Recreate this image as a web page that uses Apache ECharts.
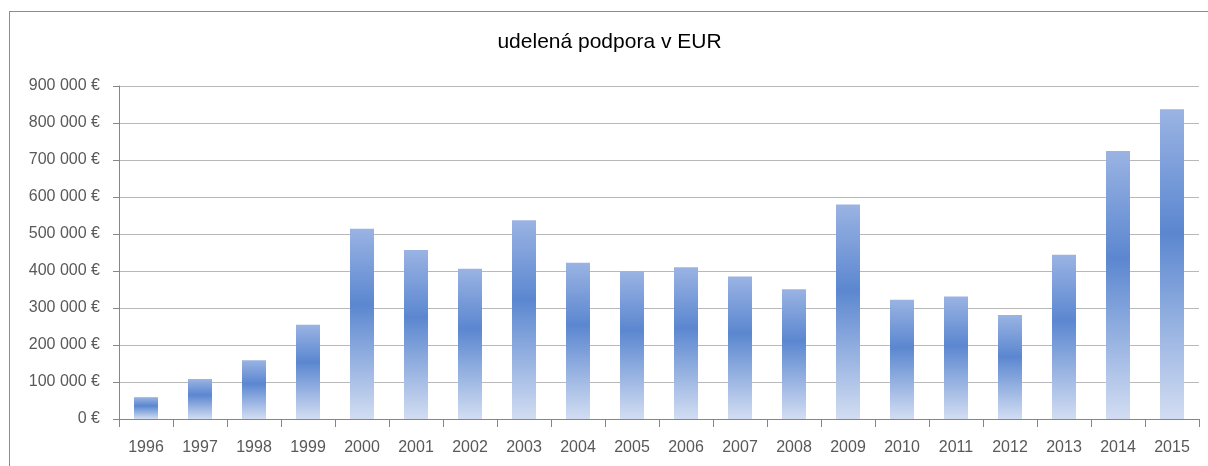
<!DOCTYPE html>
<html>
<head>
<meta charset="utf-8">
<script src="https://cdn.jsdelivr.net/npm/echarts@6/dist/echarts.min.js"></script>
<style>
    html, body { margin: 0; padding: 0; background: #ffffff; }
    #wrap { position: relative; width: 1208px; height: 466px; overflow: hidden; }
    #main {
        position: absolute; left: 9px; top: 11px;
        width: 1199px; height: 455px;
        border-top: 1px solid #8c8c8c; border-left: 1px solid #8c8c8c;
    }
</style>
</head>
<body>
<div id="wrap"><div id="main"></div></div>
<script>
var years = ['1996', '1997', '1998', '1999', '2000', '2001', '2002', '2003', '2004', '2005',
    '2006', '2007', '2008', '2009', '2010', '2011', '2012', '2013', '2014', '2015'];
var podpora = [59000, 108000, 159000, 255000, 514000, 457000, 406000, 537000, 422000, 399000,
    410000, 385000, 351000, 580000, 322000, 331000, 281000, 444000, 724000, 837000];
var yTicks = [0, 100000, 200000, 300000, 400000, 500000, 600000, 700000, 800000, 900000];

var myChart = echarts.init(document.getElementById('main'));

// popisky osi: "900 000 €"
function eur(v) {
    return String(v).replace(/\B(?=(\d{3})+(?!\d))/g, ' ') + ' €';
}

var option = {
    animation: false,
    backgroundColor: '#ffffff',
    title: {
        text: 'udelená podpora v EUR',
        left: 'center',
        top: 20,
        padding: [0, 0, 0, 9],
        textStyle: {
            fontFamily: 'Liberation Sans',
            fontSize: 21,
            fontWeight: 'normal',
            color: '#000000'
        }
    },
    grid: {
        left: 109,
        right: 10,
        top: 74,
        bottom: 48
    },
    xAxis: {
        type: 'category',
        data: years,
        axisLine: { lineStyle: { color: '#868686' } },
        axisTick: { show: true, length: 8, lineStyle: { color: '#868686' } },
        axisLabel: {
            margin: 21,
            fontFamily: 'Liberation Sans',
            fontSize: 16,
            color: '#595959'
        }
    },
    yAxis: {
        type: 'value',
        min: yTicks[0],
        max: yTicks[yTicks.length - 1],
        interval: 100000,
        axisLine: { show: true, lineStyle: { color: '#868686' } },
        axisTick: { show: true, length: 6, lineStyle: { color: '#868686' } },
        axisLabel: {
            margin: 19,
            fontFamily: 'Liberation Sans',
            fontSize: 16,
            color: '#595959',
            formatter: eur
        },
        splitLine: { lineStyle: { color: '#b8b8b8' } }
    },
    series: [{
        type: 'bar',
        data: podpora,
        barWidth: 24,
        itemStyle: {
            color: new echarts.graphic.LinearGradient(0, 0, 0, 1, [
                { offset: 0, color: '#9ab3e3' },
                { offset: 0.4, color: '#5b87d0' },
                { offset: 1, color: '#d2ddf2' }
            ])
        }
    }]
};

myChart.setOption(option);
</script>
</body>
</html>
